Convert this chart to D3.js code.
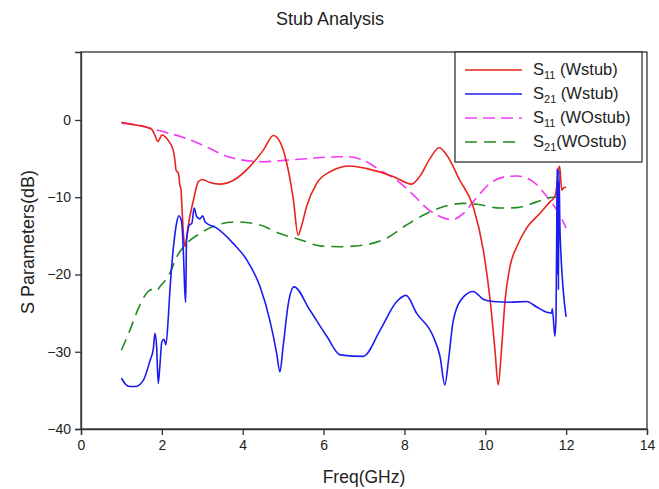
<!DOCTYPE html>
<html><head><meta charset="utf-8">
<script src="https://cdn.jsdelivr.net/npm/d3@7"></script>
<style>
html,body{margin:0;padding:0;background:#fff;}
svg text{font-family:"Liberation Sans",Arial,sans-serif;fill:#222;}
</style></head>
<body><svg id="c" width="659" height="489"></svg>
<script>
// ---- data: [Freq (GHz), dB] ----
const s11W = [[1.0,-0.3],[1.3,-0.6],[1.58,-0.87],[1.75,-1.2],[1.83,-2.0],[1.9,-2.8],[1.95,-2.4],[2.0,-1.95],[2.12,-2.4],[2.28,-3.9],[2.33,-5.5],[2.35,-6.5],[2.41,-6.9],[2.45,-8.6],[2.47,-8.8],[2.5,-11.6],[2.53,-14.5],[2.57,-16.4],[2.61,-15.5],[2.65,-13.8],[2.78,-10.4],[2.86,-8.6],[2.9,-8.0],[3.0,-7.7],[3.19,-8.1],[3.44,-8.3],[3.77,-7.8],[4.18,-6.0],[4.51,-3.9],[4.76,-2.0],[4.92,-2.8],[5.09,-5.6],[5.25,-10.2],[5.37,-14.9],[5.45,-13.8],[5.58,-11.2],[5.83,-8.2],[6.16,-6.7],[6.65,-5.95],[7.07,-6.3],[7.72,-7.3],[8.18,-8.3],[8.38,-7.3],[8.63,-5.0],[8.86,-3.6],[9.04,-4.5],[9.37,-7.8],[9.7,-11.2],[9.95,-16.8],[10.12,-23.3],[10.24,-29.8],[10.32,-34.3],[10.4,-29.8],[10.49,-23.3],[10.61,-19.0],[10.78,-16.4],[11.02,-14.0],[11.35,-12.1],[11.6,-10.6],[11.72,-9.9],[11.77,-8.5],[11.81,-6.3],[11.84,-6.0],[11.89,-9.1],[11.93,-8.8],[12.0,-8.7]];
const s21W = [[1.0,-33.4],[1.1,-34.2],[1.21,-34.5],[1.34,-34.5],[1.54,-33.7],[1.71,-31.1],[1.79,-29.6],[1.83,-27.6],[1.87,-29.3],[1.91,-34.1],[1.95,-31.9],[2.0,-28.7],[2.05,-28.4],[2.1,-29.1],[2.16,-25.5],[2.2,-22.0],[2.28,-16.8],[2.37,-13.2],[2.42,-12.4],[2.49,-13.2],[2.53,-16.8],[2.57,-22.4],[2.59,-23.6],[2.61,-15.5],[2.68,-13.6],[2.74,-13.4],[2.8,-11.4],[2.86,-12.5],[2.94,-12.8],[3.01,-12.4],[3.07,-13.2],[3.36,-14.0],[3.77,-16.0],[4.1,-18.1],[4.43,-21.6],[4.67,-25.9],[4.84,-30.2],[4.92,-32.6],[5.0,-29.3],[5.13,-23.7],[5.27,-21.6],[5.66,-24.6],[6.08,-28.0],[6.41,-30.4],[6.98,-30.6],[7.4,-27.2],[7.81,-23.5],[8.04,-22.7],[8.3,-25.0],[8.71,-28.0],[8.88,-30.6],[9.0,-34.3],[9.09,-31.1],[9.21,-25.9],[9.46,-22.9],[9.7,-22.2],[9.95,-23.2],[10.2,-23.5],[10.61,-23.6],[11.02,-23.5],[11.27,-24.2],[11.52,-24.9],[11.64,-25.0],[11.66,-24.4],[11.72,-28.0],[11.75,-25.5],[11.77,-12.0],[11.78,-6.3],[11.79,-20.0],[11.8,-8.0],[11.81,-22.0],[11.82,-6.5],[11.85,-14.7],[12.0,-25.5]];
const s11WO = [[1.0,-0.43],[1.58,-0.87],[1.95,-1.4],[2.61,-2.4],[3.11,-3.5],[3.6,-4.7],[4.01,-5.2],[4.51,-5.4],[5.09,-5.2],[5.62,-5.0],[6.1,-4.8],[6.57,-4.75],[6.98,-5.2],[7.4,-6.5],[7.81,-7.8],[8.22,-9.7],[8.55,-11.4],[8.88,-12.5],[9.17,-12.9],[9.46,-12.1],[9.7,-10.6],[10.12,-8.2],[10.45,-7.4],[10.78,-7.25],[11.19,-8.0],[11.52,-9.9],[11.77,-11.65],[12.0,-14.0]];
const s21WO = [[1.0,-29.8],[1.21,-27.2],[1.46,-23.9],[1.66,-22.2],[1.79,-21.9],[1.87,-22.1],[1.95,-21.6],[2.2,-19.8],[2.37,-17.7],[2.61,-16.0],[2.94,-14.7],[3.36,-13.6],[3.85,-13.2],[4.43,-13.6],[4.92,-14.7],[5.42,-15.5],[5.91,-16.3],[6.41,-16.4],[6.98,-16.2],[7.56,-15.3],[8.05,-13.6],[8.55,-12.1],[9.04,-11.1],[9.46,-10.8],[9.79,-10.9],[10.36,-11.4],[10.78,-11.35],[11.27,-10.6],[11.68,-10.0],[12.0,-10.0]];
const xTicks = [0,2,4,6,8,10,12,14];
const yTicks = [-40,-30,-20,-10,0];
const legendItems = [
  {sub:"11", rest:" (Wstub)", color:"#e8231e", dash:null, data:s11W},
  {sub:"21", rest:" (Wstub)", color:"#1c1cf0", dash:null, data:s21W},
  {sub:"11", rest:" (WOstub)", color:"#f03cf0", dash:"12,6", data:s11WO},
  {sub:"21", rest:"(WOstub)", color:"#228b22", dash:"12,7", data:s21WO}
];

const svg = d3.select("#c");
const L=81, R=647, T=52, B=429;
const x = d3.scaleLinear().domain([0,14]).range([L,R]);
const y = d3.scaleLinear().domain([-40,8.8]).range([B,T]);

// title
svg.append("text").attr("x",330).attr("y",25).attr("text-anchor","middle")
  .style("font-size","18px").text("Stub Analysis");

// frame
svg.append("rect").attr("x",L).attr("y",T).attr("width",R-L).attr("height",B-T)
  .attr("fill","none").attr("stroke","#333").attr("stroke-width",1.3);

// axes
const xa = svg.append("g").attr("transform",`translate(0,${B})`)
  .call(d3.axisBottom(x).tickValues(xTicks).tickFormat(d3.format("d")).tickSize(6).tickPadding(5));
const ya = svg.append("g").attr("transform",`translate(${L},0)`)
  .call(d3.axisLeft(y).tickValues(yTicks).tickFormat(d3.format("d")).tickSize(6).tickPadding(4));
[xa,ya].forEach(g=>{
  g.select(".domain").attr("stroke","#333").attr("stroke-width",1.3);
  g.selectAll(".tick line").attr("stroke","#333").attr("stroke-width",1.3);
  g.selectAll(".tick text").style("font-size","14px").style("font-family","Liberation Sans, Arial, sans-serif").attr("fill","#222");
});

svg.append("text").attr("x",364).attr("y",483).attr("text-anchor","middle")
  .style("font-size","17.5px").text("Freq(GHz)");
svg.append("text").attr("transform","translate(34,242) rotate(-90)").attr("text-anchor","middle")
  .style("font-size","18px").text("S Parameters(dB)");

// lines
const line = d3.line().x(d=>x(d[0])).y(d=>y(d[1])).curve(d3.curveMonotoneX);
[legendItems[2],legendItems[3],legendItems[0],legendItems[1]].forEach(s=>{
  svg.append("path").datum(s.data).attr("d",line).attr("fill","none")
    .attr("stroke",s.color).attr("stroke-width",1.6)
    .attr("stroke-dasharray",s.dash);
});

// legend
const lg = svg.append("g");
lg.append("rect").attr("x",455).attr("y",T).attr("width",187).attr("height",110)
  .attr("fill","#fff").attr("stroke","#333").attr("stroke-width",1.3);
const rowsY=[70,94,118,142];
legendItems.forEach((s,i)=>{
  lg.append("line").attr("x1",465).attr("x2",522).attr("y1",rowsY[i]).attr("y2",rowsY[i])
    .attr("stroke",s.color).attr("stroke-width",1.6).attr("stroke-dasharray",s.dash);
  const t = lg.append("text").attr("x",533).attr("y",rowsY[i]+5).style("font-size","16.5px");
  t.append("tspan").text("S");
  t.append("tspan").attr("dy",4).style("font-size","11px").text(s.sub);
  t.append("tspan").attr("dy",-4).text(s.rest);
});
</script></body></html>
